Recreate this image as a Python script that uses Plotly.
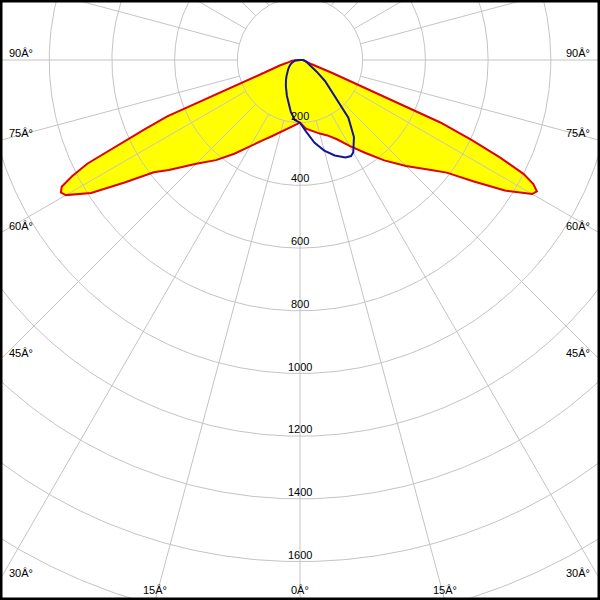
import numpy as np
import plotly.graph_objects as go

# ---- data (candela values) ----
gamma_red = [0, 5, 10, 15, 20, 25, 30, 35, 40, 45, 50, 52.5, 55, 57.5, 60, 61, 62, 63,
             64, 65, 66, 67, 68, 70, 75, 80, 85, 90]
red_c180 = [200, 210, 224, 238, 258, 283, 316, 365, 417, 468, 546, 588, 680, 790, 862, 872,
            861, 815, 755, 640, 540, 460, 280, 135, 65, 34, 26, 22]          # left half
red_c0 = [200, 220, 231, 243, 256, 279, 316, 361, 418, 478, 546, 590, 674, 775, 855, 864,
          843, 800, 712, 605, 490, 231, 113, 40, 16, 12, 10, 10]              # right half

gamma_blue = [0, 5, 10, 15, 20, 25, 28, 30, 35, 40, 45, 50, 55, 60, 65, 70, 75, 80, 85, 90]
blue_c270 = [200, 192, 168, 141, 122, 104, 96, 92, 78, 67, 58, 50, 44, 39, 34, 28, 23, 18, 16, 14]
blue_c90 = [200, 230, 268, 299, 324, 343, 347, 340, 300, 240, 150, 104, 65, 45, 33, 25, 20, 16, 13, 10]

grid_rings = [200, 400, 600, 800, 1000, 1200, 1400, 1600, 1800, 2000]
ring_labels = ["200", "400", "600", "800", "1000", "1200", "1400", "1600"]
spoke_angles = list(range(0, 360, 15))
angle_ticks = [0, 15, 30, 45, 60, 75, 90]
angle_labels = ["0Â°", "15Â°", "30Â°", "45Â°", "60Â°", "75Â°", "90Â°"]

# ---- geometry ----
W = H = 600
K = 0.3135          # pixels per candela
CX, CY = 300, 60    # pole position in pixels

def to_xy(gam, left, right):
    phi = [-g for g in gam[::-1]] + list(gam[1:])
    r = list(left[::-1]) + list(right[1:])
    phi = np.radians(phi)
    r = np.array(r, dtype=float)
    x = np.concatenate([[0], r * np.sin(phi), [0]])
    y = np.concatenate([[0], -r * np.cos(phi), [0]])
    return x, y

fig = go.Figure()

rx, ry = to_xy(gamma_red, red_c180, red_c0)
bx, by = to_xy(gamma_blue, blue_c270, blue_c90)

# yellow fill
fig.add_trace(go.Scatter(x=rx, y=ry, mode="lines", fill="toself",
                         fillcolor="#ffff00", line=dict(width=0, color="rgba(0,0,0,0)"),
                         hoverinfo="skip", showlegend=False))

# grid circles
t = np.linspace(0, 2 * np.pi, 721)
gx, gy = [], []
for r in grid_rings:
    gx += list(r * np.cos(t)) + [None]
    gy += list(r * np.sin(t)) + [None]
fig.add_trace(go.Scatter(x=gx, y=gy, mode="lines", line=dict(color="#c4c4c4", width=1),
                         hoverinfo="skip", showlegend=False))
# grid spokes
sx, sy = [], []
for a in spoke_angles:
    ar = np.radians(a)
    for r in (grid_rings[0], 2200):
        sx.append(r * np.sin(ar))
        sy.append(-r * np.cos(ar))
    sx.append(None)
    sy.append(None)
fig.add_trace(go.Scatter(x=sx, y=sy, mode="lines", line=dict(color="#c4c4c4", width=1),
                         hoverinfo="skip", showlegend=False))

# curves
fig.add_trace(go.Scatter(x=rx, y=ry, mode="lines", line=dict(color="#e00000", width=2),
                         hoverinfo="skip", showlegend=False))
fig.add_trace(go.Scatter(x=bx, y=by, mode="lines", line=dict(color="#141496", width=2),
                         hoverinfo="skip", showlegend=False))

font = dict(family="Liberation Sans, Arial, sans-serif", size=11, color="black")
ann = []
for r, lab in zip(grid_rings, ring_labels):
    ann.append(dict(x=0, y=-r, xref="x", yref="y", text=lab, showarrow=False,
                    xanchor="center", yanchor="bottom", yshift=-1, font=font))

for a, lab in zip(angle_ticks, angle_labels):
    ar = np.radians(a)
    if a == 0:
        pts = [(CX, 589.5)]
    else:
        y_exit = CY + 300 / np.tan(ar)
        if y_exit < H:
            py = y_exit - 7
            pts = [(21, py), (578, py)]
        else:
            dx = (H - CY) * np.tan(ar)
            pts = [(CX - dx, 589.5), (CX + dx, 589.5)]
    for px, py in pts:
        ann.append(dict(x=px / W, y=1 - py / H, xref="paper", yref="paper", text=lab,
                        showarrow=False, xanchor="center", yanchor="middle", font=font))

fig.update_layout(
    width=W, height=H, autosize=False,
    margin=dict(l=0, r=0, t=0, b=0, pad=0),
    paper_bgcolor="white", plot_bgcolor="white",
    xaxis=dict(range=[-CX / K, (W - CX) / K], visible=False, fixedrange=True),
    yaxis=dict(range=[-(H - CY) / K, CY / K], visible=False, fixedrange=True),
    annotations=ann,
    shapes=[dict(type="rect", xref="paper", yref="paper", x0=0, y0=0, x1=1, y1=1,
                 line=dict(color="black", width=5), layer="above")],
    showlegend=False,
)

fig.write_html("out.html", config={"displayModeBar": False},
               post_script="document.body.style.margin='0';document.body.style.overflow='hidden';")
